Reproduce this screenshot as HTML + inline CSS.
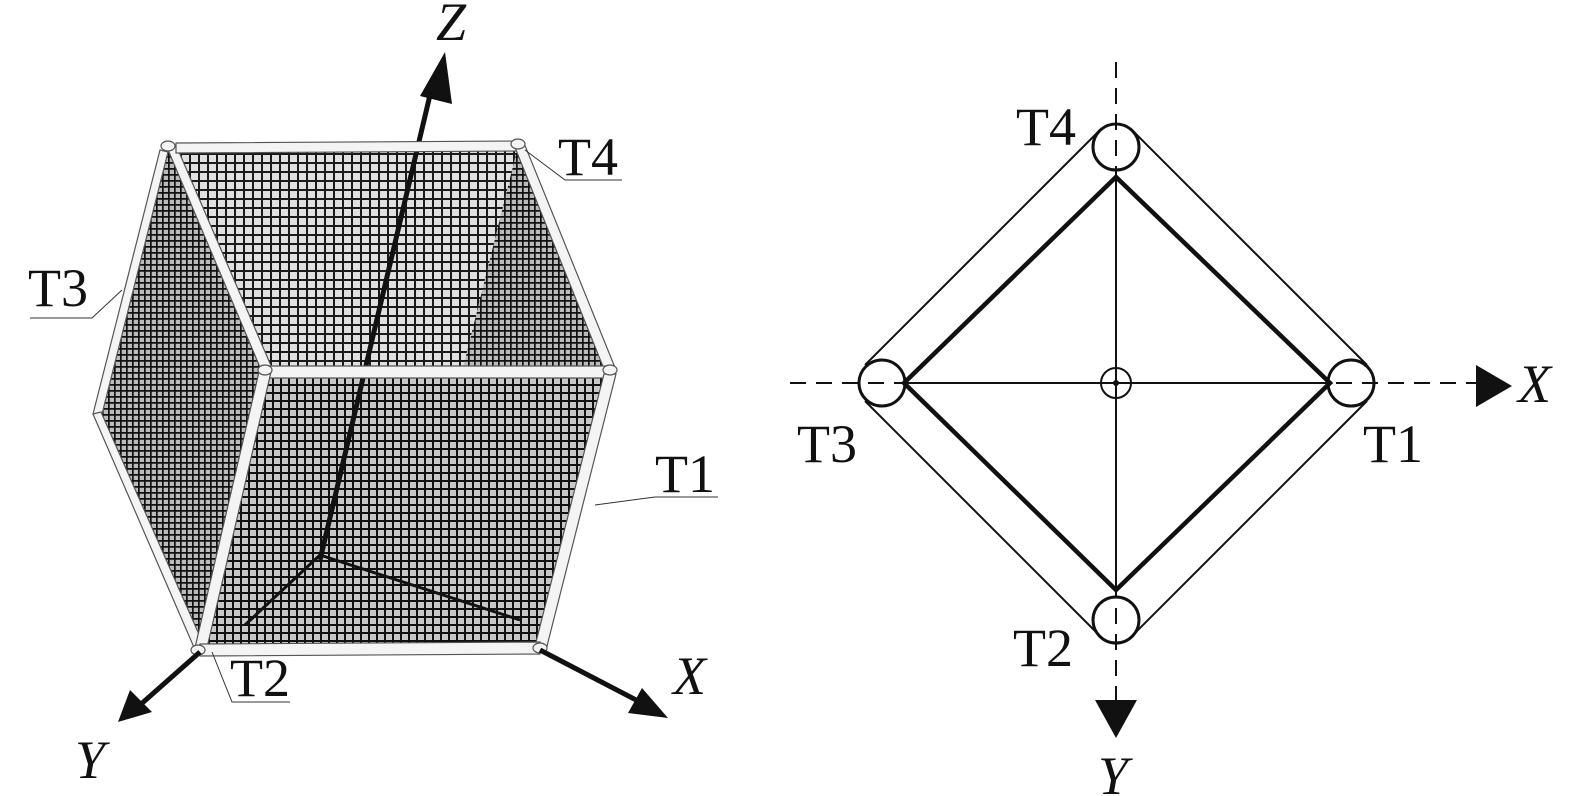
<!DOCTYPE html>
<html><head><meta charset="utf-8"><style>
html,body{margin:0;padding:0;background:#fff;width:1582px;height:796px;overflow:hidden}
text{font-family:"Liberation Serif",serif;fill:#111}
</style></head><body>
<svg width="1582" height="796" viewBox="0 0 1582 796" xmlns="http://www.w3.org/2000/svg">
<defs>
<pattern id="m1" width="9" height="9" patternUnits="userSpaceOnUse">
<rect width="9" height="9" fill="#e0e0e0"/>
<path d="M0 0H9M0 0V9" stroke="#1a1a1a" stroke-width="4"/>
</pattern>
<pattern id="m2" width="6" height="6" patternUnits="userSpaceOnUse">
<rect width="6" height="6" fill="#bbb"/>
<path d="M0 0H6M0 0V6" stroke="#111" stroke-width="3.4"/>
</pattern>
<pattern id="m3" width="8" height="8" patternUnits="userSpaceOnUse">
<rect width="8" height="8" fill="#c8c8c8"/>
<path d="M0 0H8M0 0V8" stroke="#111" stroke-width="4"/>
</pattern>
</defs>
<polygon points="172,148 518,146 610,372 265,372" fill="url(#m1)"/>
<polygon points="518,146 610,372 540,648 460,380" fill="url(#m2)"/>
<polygon points="168,150 265,372 200,650 97,415" fill="url(#m2)"/>
<polygon points="265,372 610,372 540,648 200,650" fill="url(#m3)"/>
<line x1="320" y1="560" x2="430" y2="95" stroke="#111" stroke-width="5"/>
<polygon points="445,52 452,104 420,96" fill="#111"/>
<line x1="320" y1="555" x2="245" y2="625" stroke="#111" stroke-width="3"/>
<line x1="320" y1="555" x2="520" y2="620" stroke="#111" stroke-width="3"/>
<g stroke="#555" stroke-width="1.2" fill="#f4f4f4">
<polygon points="166,145 176,145 272,368 262,372"/>
<polygon points="176,143 518,141 518,151 176,153"/>
<polygon points="514,145 524,143 616,370 606,374"/>
<polygon points="265,366 610,366 610,378 265,378"/>
<polygon points="160,150 168,152 101,418 93,414"/>
<polygon points="93,414 101,412 205,648 196,652"/>
<polygon points="259,372 271,372 206,652 194,652"/>
<polygon points="604,374 616,374 546,650 534,650"/>
<polygon points="200,644 540,642 540,654 200,656"/>
</g>
<g fill="#f4f4f4" stroke="#555" stroke-width="1.2">
<ellipse cx="168" cy="146" rx="7" ry="5"/><ellipse cx="518" cy="144" rx="7" ry="5"/>
<ellipse cx="265" cy="370" rx="7" ry="5"/><ellipse cx="610" cy="370" rx="7" ry="5"/>
<ellipse cx="198" cy="650" rx="7" ry="5"/><ellipse cx="540" cy="648" rx="7" ry="5"/>
</g>
<line x1="200" y1="652" x2="140" y2="705" stroke="#111" stroke-width="5"/>
<polygon points="118,722 130,690 152,712" fill="#111"/>
<line x1="540" y1="650" x2="640" y2="702" stroke="#111" stroke-width="5"/>
<polygon points="668,718 628,713 642,688" fill="#111"/>
<g stroke="#333" stroke-width="1" fill="none">
<polyline points="30,318 92,318 122,290"/>
<polyline points="622,180 565,180 525,150"/>
<polyline points="718,497 655,497 595,505"/>
<polyline points="290,702 232,702 212,652"/>
</g>
<g font-size="54">
<text x="28" y="306">T3</text>
<text x="558" y="175">T4</text>
<text x="655" y="492">T1</text>
<text x="230" y="696">T2</text>
<text x="436" y="40" font-style="italic">Z</text>
<text x="673" y="694" font-style="italic">X</text>
<text x="75" y="778" font-style="italic">Y</text>
</g>
<g stroke="#111" fill="none">
<line x1="790" y1="383" x2="1478" y2="383" stroke-width="2" stroke-dasharray="16,10"/>
<line x1="1116" y1="62" x2="1116" y2="700" stroke-width="2" stroke-dasharray="16,10"/>
<line x1="904" y1="383" x2="1330" y2="383" stroke-width="2"/>
<line x1="1116" y1="177" x2="1116" y2="590" stroke-width="2"/>
<polygon points="1116,177 1330,383 1116,590 904,383" stroke-width="4.5"/>
<polyline points="1100,130 865,365" stroke-width="2"/>
<polyline points="1132,130 1367,365" stroke-width="2"/>
<polyline points="865,401 1100,636" stroke-width="2"/>
<polyline points="1367,401 1132,636" stroke-width="2"/>
<g stroke-width="3">
<circle cx="1116" cy="147" r="23"/>
<circle cx="1116" cy="620" r="23"/>
<circle cx="882" cy="383" r="23"/>
<circle cx="1351" cy="383" r="23"/>
</g>
<circle cx="1116" cy="383" r="15" stroke-width="2"/>
</g>
<circle cx="1116" cy="383" r="3" fill="#111"/>
<polygon points="1476,365 1476,407 1512,386" fill="#111"/>
<polygon points="1095,700 1137,700 1116,738" fill="#111"/>
<g font-size="54">
<text x="1016" y="145">T4</text>
<text x="797" y="462">T3</text>
<text x="1363" y="462">T1</text>
<text x="1013" y="666">T2</text>
<text x="1518" y="402" font-style="italic">X</text>
<text x="1098" y="794" font-style="italic">Y</text>
</g>
</svg>
</body></html>
